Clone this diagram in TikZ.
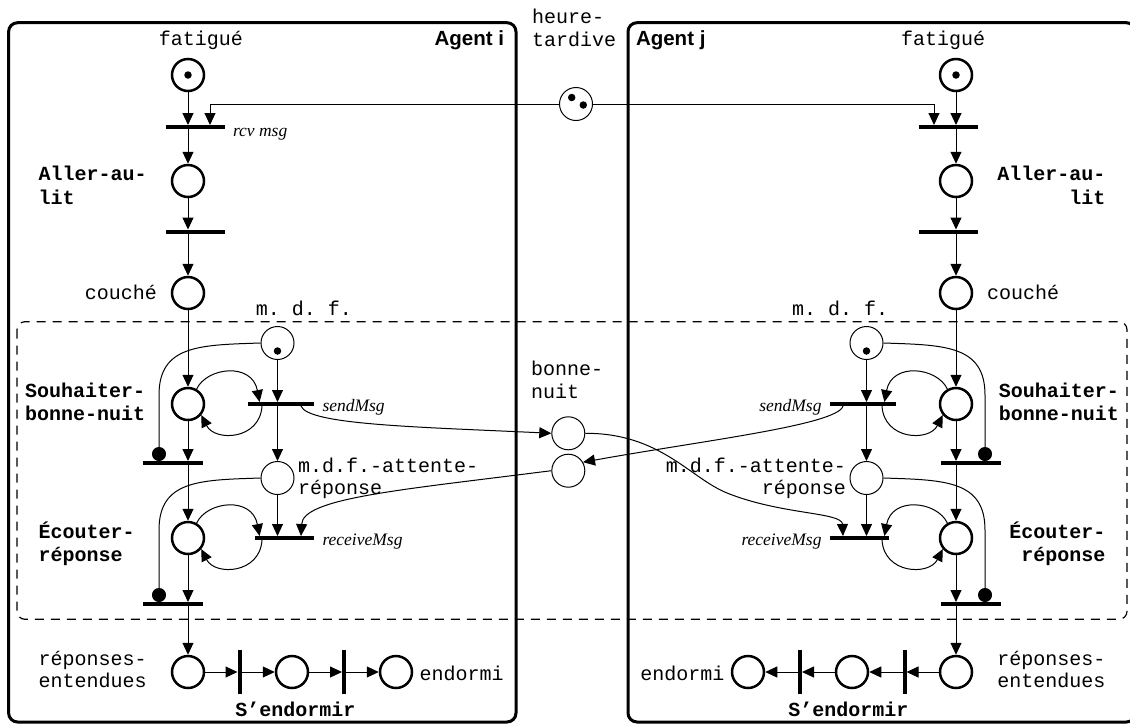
\documentclass[tikz,border=0pt]{standalone}
\usepackage{fontspec}
\usetikzlibrary{arrows.meta}
\newfontfamily\monofam{Liberation Mono}
\newfontfamily\sansfam{Liberation Sans}
\newfontfamily\seriffam{Liberation Serif}
\tikzset{
  place/.style={circle, draw, fill=white, line width=2.5pt, minimum size=32pt, inner sep=0pt},
  tplace/.style={circle, draw, fill=white, line width=1pt, minimum size=33pt, inner sep=0pt},
  token/.style={circle, fill, inner sep=0pt, minimum size=7.5pt},
  hbar/.style={rectangle, fill, inner sep=0pt, minimum height=4pt, outer sep=0pt},
  vbar/.style={rectangle, fill, inner sep=0pt, minimum width=4pt, minimum height=44pt, outer sep=0pt},
  arc/.style={line width=1pt, -{Triangle[length=12pt,width=11pt]}},
  inh/.style={line width=1pt, -{Circle[length=14pt]}},
  agentbox/.style={draw, line width=3pt, rounded corners=9pt},
  dashbox/.style={draw, line width=1.2pt, dash pattern=on 9pt off 7pt, rounded corners=8pt},
  lbl/.style={inner sep=0pt, outer sep=0pt, font=\monofam\fontsize{20}{23}\selectfont\frenchspacing},
  blbl/.style={inner sep=0pt, outer sep=0pt, font=\monofam\bfseries\fontsize{20}{23}\selectfont\frenchspacing},
  ilbl/.style={inner sep=0pt, outer sep=0pt, font=\seriffam\itshape\fontsize{17.5}{20}\selectfont},
  albl/.style={inner sep=0pt, outer sep=0pt, font=\sansfam\bfseries\fontsize{20.5}{24}\selectfont}
}
\newcommand\agentnet[3]{%
  \def\am{(#2)}\def\ac{#3}%
  \pgfmathtruncatemacro\aE{90-90*#2}%
  \pgfmathtruncatemacro\aW{90+90*#2}%
  \pgfmathtruncatemacro\aUR{90-30*#2}%
  \pgfmathtruncatemacro\aLR{270+50*#2}%
  \ifnum#2=1 \def\lA{west}\def\lB{east}\else\def\lA{east}\def\lB{west}\fi
  % places
  \node[place] (#1F) at ({\ac+\am*188},75) {};
  \node[token] (#1Ft) at (#1F) {};
  \node[place] (#1A) at ({\ac+\am*188},181) {};
  \node[place] (#1C) at ({\ac+\am*188},293) {};
  \node[place] (#1S) at ({\ac+\am*188},404) {};
  \node[place] (#1E) at ({\ac+\am*188},538) {};
  \node[place] (#1R) at ({\ac+\am*188},672) {};
  \node[place] (#1Z) at ({\ac+\am*292},672) {};
  \node[place] (#1D) at ({\ac+\am*396},672) {};
  \node[tplace] (#1M) at ({\ac+\am*277.5},343) {};
  \node[token] (#1Mt) at ({\ac+\am*277.5},351) {};
  \node[tplace] (#1W) at ({\ac+\am*277.5},478) {};
  % transitions
  \node[hbar, minimum width=59pt] (#1T1) at ({\ac+\am*195.5},127) {};
  \node[hbar, minimum width=59pt] (#1T2) at ({\ac+\am*195.5},231.5) {};
  \node[hbar, minimum width=66pt] (#1T3) at ({\ac+\am*281},404) {};
  \node[hbar, minimum width=60pt] (#1T4) at ({\ac+\am*173},463) {};
  \node[hbar, minimum width=59pt] (#1T5) at ({\ac+\am*284.5},538) {};
  \node[hbar, minimum width=60pt] (#1T6) at ({\ac+\am*173},604) {};
  \node[vbar] (#1T7) at ({\ac+\am*239.5},672) {};
  \node[vbar] (#1T8) at ({\ac+\am*344},672) {};
  % helper coordinates
  \coordinate (#1h) at ({\ac+\am*210},0);
  \coordinate (#1la) at ({\ac+\am*259.6},0);
  \coordinate (#1lb) at ({\ac+\am*262},0);
  \coordinate (#1ia) at ({\ac+\am*159},0);
  % arcs
  \draw[arc] (#1F) -- (#1T1.north -| #1F);
  \draw[arc] (H.\aW) -| (#1T1.north -| #1h);
  \draw[arc] (#1T1.south -| #1A) -- (#1A);
  \draw[arc] (#1A) -- (#1T2.north -| #1A);
  \draw[arc] (#1T2.south -| #1C) -- (#1C);
  \draw[arc] (#1C) -- (#1S);
  \draw[arc] (#1M) -- (#1T3.north -| #1M);
  \draw[arc] (#1S) -- (#1T4.north -| #1S);
  \draw[arc] (#1T3.south -| #1W) -- (#1W);
  \draw[arc] (#1T4.south -| #1E) -- (#1E);
  \draw[arc] (#1W) -- (#1T5.north -| #1W);
  \draw[arc] (#1E) -- (#1T6.north -| #1E);
  \draw[arc] (#1T6.south -| #1R) -- (#1R);
  \draw[arc] (#1R.\aE) -- (#1T7.\aW);
  \draw[arc] (#1T7.\aE) -- (#1Z.\aW);
  \draw[arc] (#1Z.\aE) -- (#1T8.\aW);
  \draw[arc] (#1T8.\aE) -- (#1D.\aW);
  % self loops
  \draw[arc] (#1S.\aUR) .. controls ({\ac+\am*207},367) and ({\ac+\am*252},362) .. (#1T3.north -| #1la);
  \draw[arc] (#1T3.south -| #1lb) .. controls ({\ac+\am*260},440) and ({\ac+\am*215},442) .. (#1S.\aLR);
  \draw[arc] (#1E.\aUR) .. controls ({\ac+\am*207},501) and ({\ac+\am*252},496) .. (#1T5.north -| #1la);
  \draw[arc] (#1T5.south -| #1lb) .. controls ({\ac+\am*260},574) and ({\ac+\am*215},576) .. (#1E.\aLR);
  % inhibitor arcs
  \draw[inh] (#1M.\aW) .. controls ({\ac+\am*200},345) and ({\ac+\am*159},345) .. ({\ac+\am*159},395) -- (#1T4.north -| #1ia);
  \draw[inh] (#1W.\aW) .. controls ({\ac+\am*200},480) and ({\ac+\am*159},480) .. ({\ac+\am*159},530) -- (#1T6.north -| #1ia);
  % labels
  \node[lbl, anchor=base] (#1lf) at ({\ac+\am*201},45) {fatigué};
  \node[blbl, anchor=base \lA] (#1la1) at ({\ac+\am*38.6},180) {Aller-au-};
  \node[blbl, anchor=base \lA] (#1la2) at ({\ac+\am*38.6},204) {lit};
  \node[lbl, anchor=base \lB] (#1lc) at ({\ac+\am*157},299) {couché};
  \node[lbl, anchor=base] (#1lm) at ({\ac+\am*304},315) {m. d. f.};
  \node[blbl, anchor=base \lA] (#1ls1) at ({\ac+\am*25},397) {Souhaiter-};
  \node[blbl, anchor=base \lA] (#1ls2) at ({\ac+\am*25},420) {bonne-nuit};
  \node[ilbl, anchor=base \lA] (#1lsm) at ({\ac+\am*322.5},411) {sendMsg};
  \node[lbl, anchor=base \lA] (#1lw1) at ({\ac+\am*298},472) {m.d.f.-attente-};
  \node[lbl, anchor=base \lA] (#1lw2) at ({\ac+\am*298},494) {réponse};
  \node[blbl, anchor=base \lA] (#1le1) at ({\ac+\am*38.6},538) {Écouter-};
  \node[blbl, anchor=base \lA] (#1le2) at ({\ac+\am*38.6},561) {réponse};
  \node[ilbl, anchor=base \lA] (#1lrm) at ({\ac+\am*322.5},545) {receiveMsg};
  \node[lbl, anchor=base \lA] (#1lr1) at ({\ac+\am*38.6},665) {réponses-};
  \node[lbl, anchor=base \lA] (#1lr2) at ({\ac+\am*38.6},687) {entendues};
  \node[lbl, anchor=base \lA] (#1ld) at ({\ac+\am*419.6},680) {endormi};
  \node[blbl, anchor=base] (#1lse) at ({\ac+\am*295.5},716.5) {S’endormir};
}
\begin{document}
\begin{tikzpicture}[x=1pt,y=-1pt]
  \useasboundingbox (0,0) rectangle (1130,724);
  \fill[white] (0,0) rectangle (1130,724);
  % frames
  \draw[agentbox] (8.6,22.7) rectangle (516,722);
  \draw[agentbox] (628,22.7) rectangle (1135.4,722);
  \draw[dashbox] (17,321.7) rectangle (1127,619.3);
  % shared places
  \node[tplace] (H) at (576,104) {};
  \node[token] (Ht1) at (571.7,97.5) {};
  \node[token] (Ht2) at (583.3,105) {};
  \node[tplace] (BA) at (568.3,433.3) {};
  \node[tplace] (BB) at (568.3,470.7) {};
  \node[lbl, anchor=base west] (lh1) at (532,23.3) {heure-};
  \node[lbl, anchor=base west] (lh2) at (532,46.5) {tardive};
  \node[lbl, anchor=base west] (lb1) at (531,375) {bonne-};
  \node[lbl, anchor=base west] (lb2) at (531,398) {nuit};
  % agents
  \agentnet{i}{1}{0}
  \agentnet{j}{-1}{1144}
  \node[ilbl, anchor=base west] (lrcv) at (233,136) {rcv msg};
  \node[albl, anchor=base east] (agi) at (504,45) {Agent i};
  \node[albl, anchor=base west] (agj) at (636,45) {Agent j};
  % messages between agents
  \coordinate (ic301) at (301,0);
  \coordinate (jc843) at (843,0);
  \draw[arc] (iT3.south -| ic301) .. controls (308,425) and (420,427) .. (BA.west);
  \draw[arc] (BB.west) .. controls (400,490) and (303,498) .. (iT5.north -| ic301);
  \draw[arc] (jT3.south -| jc843) .. controls (838,425) and (700,441) .. (BB.30);
  \draw[arc] (BA.east) .. controls (660,433) and (690,478) .. (727,493) .. controls (782,515) and (842,512) .. (jT5.north -| jc843);
\end{tikzpicture}
\end{document}
